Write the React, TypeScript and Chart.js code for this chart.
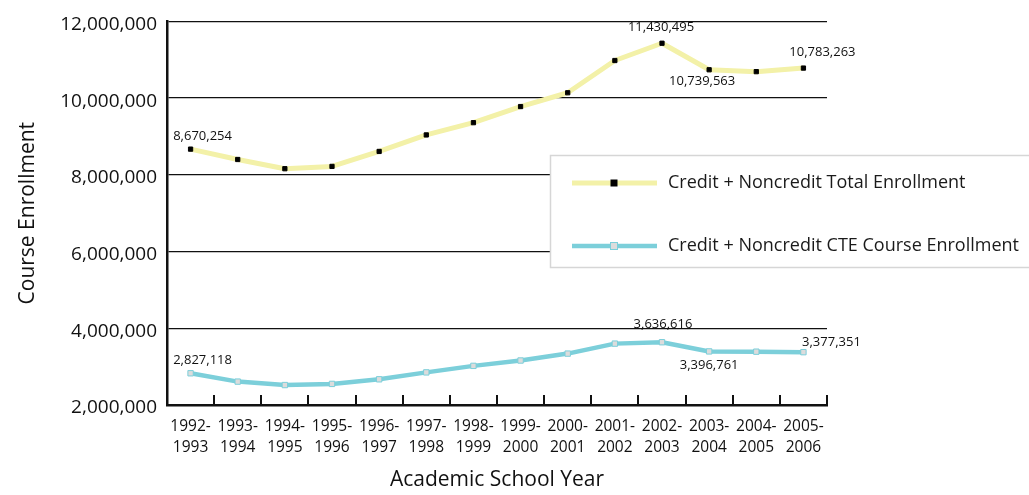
import React, { useEffect, useRef } from "react";
import { Chart, registerables } from "chart.js";

Chart.register(...registerables);

const yearStart = ["1992-", "1993-", "1994-", "1995-", "1996-", "1997-", "1998-", "1999-", "2000-", "2001-", "2002-", "2003-", "2004-", "2005-"];
const yearEnd = ["1993", "1994", "1995", "1996", "1997", "1998", "1999", "2000", "2001", "2002", "2003", "2004", "2005", "2006"];

const totalEnrollment = [8670254, 8400000, 8160000, 8220000, 8610000, 9040000, 9360000, 9780000, 10140000, 10980000, 11430495, 10739563, 10690000, 10783263];
const cteEnrollment = [2827118, 2610000, 2520000, 2550000, 2670000, 2850000, 3020000, 3160000, 3340000, 3600000, 3636616, 3396761, 3390000, 3377351];

const yTicks = [2000000, 4000000, 6000000, 8000000, 10000000, 12000000];

const seriesNames = ["Credit + Noncredit Total Enrollment", "Credit + Noncredit CTE Course Enrollment"];

const FONT = "'Open Sans', 'Noto Sans', sans-serif";
const YELLOW = "rgb(243,241,168)";
const CYAN = "rgb(124,207,218)";

const labelSpots = [
  { ds: 0, i: 0, dx: 12, dy: -13 },
  { ds: 0, i: 10, dx: -1, dy: -16 },
  { ds: 0, i: 11, dx: -7, dy: 12 },
  { ds: 0, i: 13, dx: 19, dy: -16 },
  { ds: 1, i: 0, dx: 12, dy: -13 },
  { ds: 1, i: 10, dx: 1, dy: -18 },
  { ds: 1, i: 11, dx: 0, dy: 14 },
  { ds: 1, i: 13, dx: 28, dy: -10 },
];

const innerTicksPlugin = {
  id: "innerTicks",
  afterDraw(chart: any) {
    const ctx = chart.ctx;
    const xs = chart.scales.x;
    const bottom = chart.chartArea.bottom;
    const half = (xs.getPixelForValue(1) - xs.getPixelForValue(0)) / 2;
    ctx.save();
    ctx.strokeStyle = "#111";
    ctx.lineWidth = 2;
    for (let i = 0; i < yearStart.length; i++) {
      const x = Math.round(xs.getPixelForValue(i) + half);
      ctx.beginPath();
      ctx.moveTo(x, bottom);
      ctx.lineTo(x, bottom - 10);
      ctx.stroke();
    }
    ctx.restore();
  },
};

const valueLabelsPlugin = {
  id: "valueLabels",
  afterDatasetsDraw(chart: any) {
    const ctx = chart.ctx;
    ctx.save();
    ctx.font = `13px ${FONT}`;
    ctx.fillStyle = "#111";
    ctx.textAlign = "center";
    ctx.textBaseline = "middle";
    for (const s of labelSpots) {
      const pt = chart.getDatasetMeta(s.ds).data[s.i];
      const v = chart.data.datasets[s.ds].data[s.i] as number;
      ctx.fillText(v.toLocaleString("en-US"), pt.x + s.dx, pt.y + s.dy);
    }
    ctx.restore();
  },
};

const legendBoxPlugin = {
  id: "legendBox",
  afterDraw(chart: any) {
    const ctx = chart.ctx;
    const bx = 550.5, by = 155.5, bw = 500, bh = 112;
    ctx.save();
    ctx.fillStyle = "#fff";
    ctx.fillRect(bx, by, bw, bh);
    ctx.strokeStyle = "#d6d6d6";
    ctx.lineWidth = 1.5;
    ctx.strokeRect(bx, by, bw, bh);
    const rows = [
      { y: 183, color: YELLOW, lw: 5, fill: "#000", stroke: "#000", size: 6 },
      { y: 246, color: CYAN, lw: 4.5, fill: "#dcdcdc", stroke: CYAN, size: 7 },
    ];
    rows.forEach((r, k) => {
      ctx.strokeStyle = r.color;
      ctx.lineWidth = r.lw;
      ctx.beginPath();
      ctx.moveTo(572, r.y);
      ctx.lineTo(657, r.y);
      ctx.stroke();
      ctx.fillStyle = r.fill;
      ctx.fillRect(614 - r.size / 2, r.y - r.size / 2, r.size, r.size);
      ctx.strokeStyle = r.stroke;
      ctx.lineWidth = 1;
      ctx.strokeRect(614 - r.size / 2, r.y - r.size / 2, r.size, r.size);
      ctx.fillStyle = "#1a1a1a";
      ctx.font = `18px ${FONT}`;
      ctx.textAlign = "left";
      ctx.textBaseline = "middle";
      ctx.fillText(seriesNames[k], 668, r.y);
    });
    ctx.restore();
  },
};

export default function App() {
  const canvasRef = useRef<HTMLCanvasElement | null>(null);

  useEffect(() => {
    document.body.style.margin = "0";
    const canvas = canvasRef.current;
    if (!canvas) return;
    const chart = new Chart(canvas, {
      type: "line",
      data: {
        labels: yearStart.map((s, i) => [s, yearEnd[i]]),
        datasets: [
          {
            label: seriesNames[0],
            data: totalEnrollment,
            borderColor: YELLOW,
            borderWidth: 5,
            tension: 0,
            borderJoinStyle: "round",
            pointStyle: "rect",
            pointRadius: 3,
            pointBackgroundColor: "#000",
            pointBorderColor: "#000",
            pointBorderWidth: 1,
            fill: false,
          },
          {
            label: seriesNames[1],
            data: cteEnrollment,
            borderColor: CYAN,
            borderWidth: 4.5,
            tension: 0,
            borderJoinStyle: "round",
            pointStyle: "rect",
            pointRadius: 3.8,
            pointBackgroundColor: "#dcdcdc",
            pointBorderColor: CYAN,
            pointBorderWidth: 1,
            fill: false,
          },
        ],
      },
      options: {
        animation: false,
        responsive: true,
        maintainAspectRatio: false,
        layout: { padding: { left: 0, right: 202, top: 21, bottom: 0 } },
        plugins: {
          legend: { display: false },
          tooltip: { enabled: false },
        },
        scales: {
          x: {
            type: "category",
            offset: true,
            afterFit: (s: any) => {
              s.height = 90;
            },
            grid: { display: false, drawTicks: false },
            border: { display: true, color: "#111", width: 2.5 },
            ticks: {
              color: "#111",
              padding: 12,
              maxRotation: 0,
              autoSkip: false,
              font: { family: FONT, size: 15.5, lineHeight: 1.3 },
            },
            title: {
              display: true,
              text: "Academic School Year",
              color: "#111",
              font: { family: FONT, size: 21 },
              padding: { top: 0, bottom: 2 },
            },
          },
          y: {
            min: 2000000,
            max: 12000000,
            afterFit: (s: any) => {
              s.width = 167;
            },
            afterBuildTicks: (s: any) => {
              s.ticks = yTicks.map((v) => ({ value: v }));
            },
            grid: { display: true, color: "#111", lineWidth: 1.3, drawTicks: false },
            border: { display: true, color: "#111", width: 2.5 },
            ticks: {
              color: "#111",
              padding: 10,
              labelOffset: 3,
              font: { family: FONT, size: 19 },
              callback: (v: any) => Number(v).toLocaleString("en-US"),
            },
            title: {
              display: true,
              text: "Course Enrollment",
              color: "#111",
              font: { family: FONT, size: 21 },
              padding: { top: 15, bottom: 0 },
            },
          },
        },
      },
      plugins: [innerTicksPlugin, valueLabelsPlugin, legendBoxPlugin],
    });
    return () => chart.destroy();
  }, []);

  return (
    <div style={{ position: "relative", width: "1029px", height: "495px" }}>
      <canvas ref={canvasRef} />
    </div>
  );
}
